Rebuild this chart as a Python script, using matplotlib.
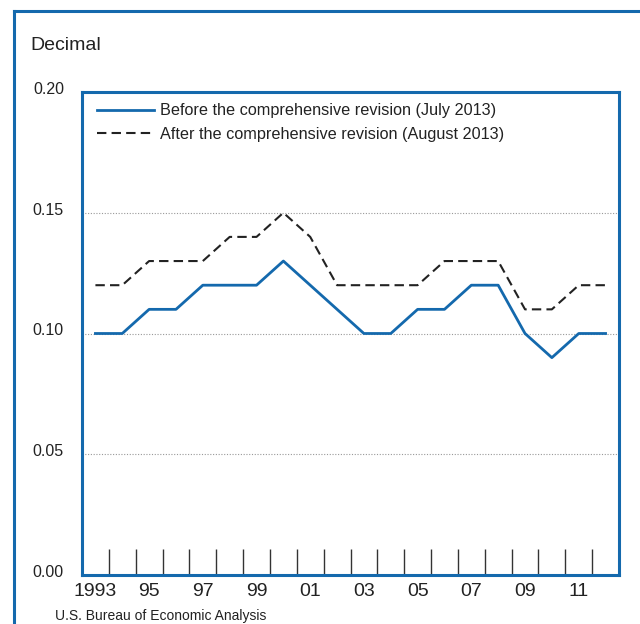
import matplotlib
matplotlib.use("Agg")
import matplotlib.pyplot as plt
import matplotlib.transforms as mtransforms
from matplotlib.lines import Line2D

plt.rcParams['font.family'] = ['Liberation Sans Narrow', 'Liberation Sans', 'DejaVu Sans']

years = list(range(1993, 2013))
before = [0.10, 0.10, 0.11, 0.11, 0.12, 0.12, 0.12, 0.13, 0.12, 0.11,
          0.10, 0.10, 0.11, 0.11, 0.12, 0.12, 0.10, 0.09, 0.10, 0.10]
after = [0.12, 0.12, 0.13, 0.13, 0.13, 0.14, 0.14, 0.15, 0.14, 0.12,
         0.12, 0.12, 0.12, 0.13, 0.13, 0.13, 0.11, 0.11, 0.12, 0.12]
xlabels = ['1993', '95', '97', '99', '01', '03', '05', '07', '09', '11']
yticks = [0.00, 0.05, 0.10, 0.15, 0.20]
label_before = 'Before the comprehensive revision (July 2013)'
label_after = 'After the comprehensive revision (August 2013)'

BLUE = '#1469ad'

fig = plt.figure(figsize=(6.4, 6.24), dpi=100)

# outer frame (left, top lines)
fig.add_artist(Line2D([14/640, 14/640], [0, 1 - 11/624], color=BLUE, lw=2.2,
                      transform=fig.transFigure))
fig.add_artist(Line2D([14/640, 1.0], [1 - 11/624, 1 - 11/624], color=BLUE, lw=2.2,
                      transform=fig.transFigure))

ax = fig.add_axes([82/640, 1 - 575/624, (619 - 82)/640, (575 - 92)/624])

x = list(range(len(years)))
ax.plot(x, before, color=BLUE, lw=2.0, label=label_before)
ax.plot(x, after, color='#222222', lw=1.5, dashes=(4.5, 2.5), label=label_after)

ax.set_xlim(-0.5, len(years) - 0.5)
ax.set_ylim(0, 0.20)

for s in ax.spines.values():
    s.set_color(BLUE)
    s.set_linewidth(2.2)

# horizontal gridlines
for yv in yticks[1:-1]:
    ax.axhline(yv, color='#999999', lw=0.8, ls=(0, (1, 1.5)), zorder=0)

ax.set_yticks(yticks)
ax.set_yticklabels([f'{v:.2f}' for v in yticks])
ax.tick_params(axis='y', length=0, pad=13, labelsize=11.5, labelcolor='#222222')
offset = mtransforms.ScaledTranslation(0, 3/72, fig.dpi_scale_trans)
for t in ax.get_yticklabels():
    t.set_transform(t.get_transform() + offset)

# minor ticks at category boundaries
ax.set_xticks([i + 0.5 for i in range(len(years) - 1)], minor=True)
ax.tick_params(axis='x', which='minor', direction='in', length=19, width=1.0,
               color='#333333', bottom=True)
ax.set_xticks(list(range(0, len(years), 2)))
ax.set_xticklabels(xlabels)
ax.tick_params(axis='x', which='major', length=0, pad=6, labelsize=14,
               labelcolor='#222222')

leg = ax.legend(loc='upper left', frameon=False, fontsize=11.7, handlelength=3.5,
                handletextpad=0.35, labelspacing=0.5, borderaxespad=0.3,
                bbox_to_anchor=(0.007, 1.0))
for t in leg.get_texts():
    t.set_color('#222222')

fig.text(30/640, 1 - 45/624, 'Decimal', fontsize=14, color='#222222', va='center')
fig.text(55/640, 1 - 616/624, 'U.S. Bureau of Economic Analysis', fontsize=10,
         color='#222222', va='center')

fig.savefig('out.png', dpi=100)
